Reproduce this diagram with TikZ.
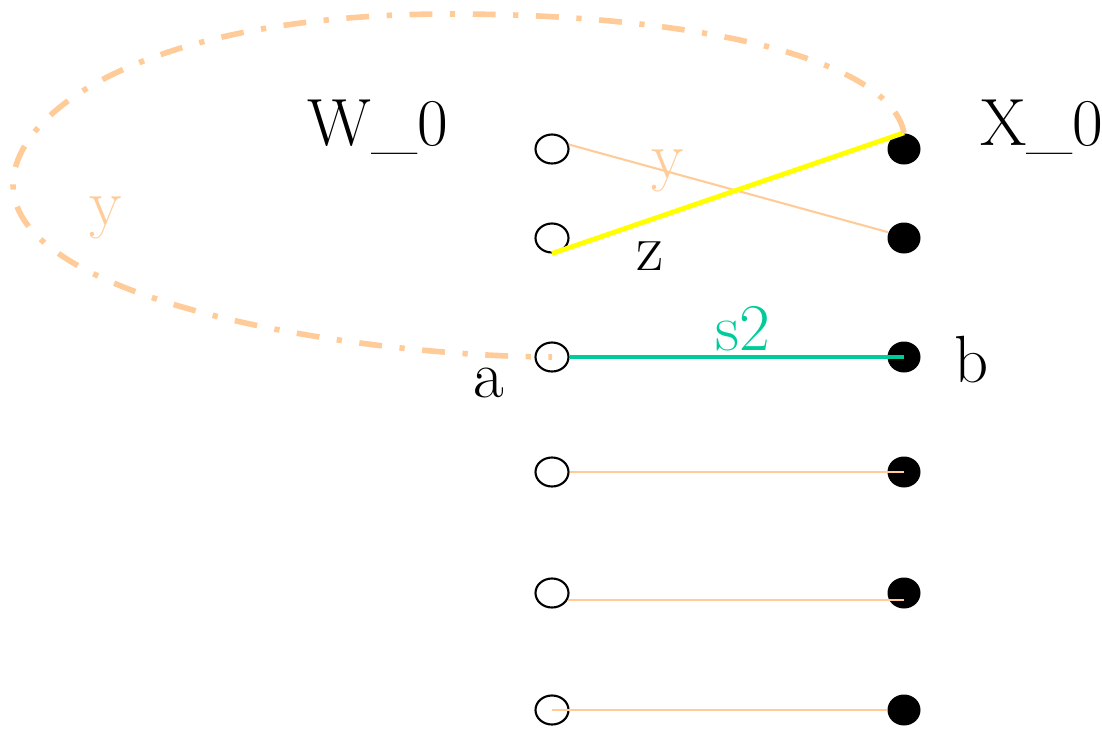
\documentclass[tikz,border=0pt]{standalone}
\usetikzlibrary{shapes.geometric}
\definecolor{peach}{RGB}{255,204,153}
\definecolor{sea}{RGB}{0,204,153}
\definecolor{lemon}{RGB}{255,255,0}
\tikzset{
  hollow/.style={ellipse,draw=black,line width=0.6pt,fill=white,inner sep=0pt,
    minimum width=3.3mm,minimum height=2.9mm},
  solid dot/.style={ellipse,fill=black,inner sep=0pt,minimum width=3.3mm,minimum height=3.1mm},
  wire/.style={draw=peach,line width=0.6pt},
  lbl/.style={anchor=base,inner sep=0pt,font=\fontsize{19}{23}\selectfont},
}
\begin{document}
\begin{tikzpicture}
  \useasboundingbox (0,0) rectangle (11.02,-7.30);
  % the two columns
  \foreach \y [count=\i] in {1.49,2.38,3.57,4.72,5.93,7.10}{
    \node[hollow] (w\i) at (5.52,-\y) {};
    \node[solid dot] (x\i) at (9.04,-\y) {};
  }
  \node[lbl] (wname) at (3.78,-1.45) {W\_0};
  \node[lbl] (xname) at (10.42,-1.45) {X\_0};
  % edges
  \draw[wire] (w1.15) -- (x2.160);
  \draw[lemon,line width=1.4pt] (w2.south) -- (x1.north);
  \draw[sea,line width=0.9pt] (w3.east) -- (x3.center);
  \draw[wire] (w4.east) -- (w4.east -| x4.center);
  \draw[wire] (w5.-25) -- (w5.-25 -| x5.center);
  \draw[wire] (w6.center) -- (x6.west);
  % loop
  \draw[peach,line width=1.6pt,dash pattern=on 6.5pt off 5pt on 1.5pt off 5pt]
    (x1.north) .. controls (8.90,-0.60) and (7.00,-0.14) .. (4.50,-0.14)
    .. controls (1.50,-0.14) and (0.13,-1.10) .. (0.13,-1.85)
    .. controls (0.13,-3.00) and (3.50,-3.56) .. (w3.center);
  % labels
  \node[lbl,text=peach] (ytop) at (6.68,-1.78) {y};
  \node[lbl,text=peach] (yloop) at (1.06,-2.25) {y};
  \node[lbl] (zlab) at (6.50,-2.70) {z};
  \node[lbl,text=sea] (slab) at (7.43,-3.50) {s2};
  \node[lbl] (alab) at (4.89,-3.97) {a};
  \node[lbl] (blab) at (9.72,-3.82) {b};
\end{tikzpicture}
\end{document}
